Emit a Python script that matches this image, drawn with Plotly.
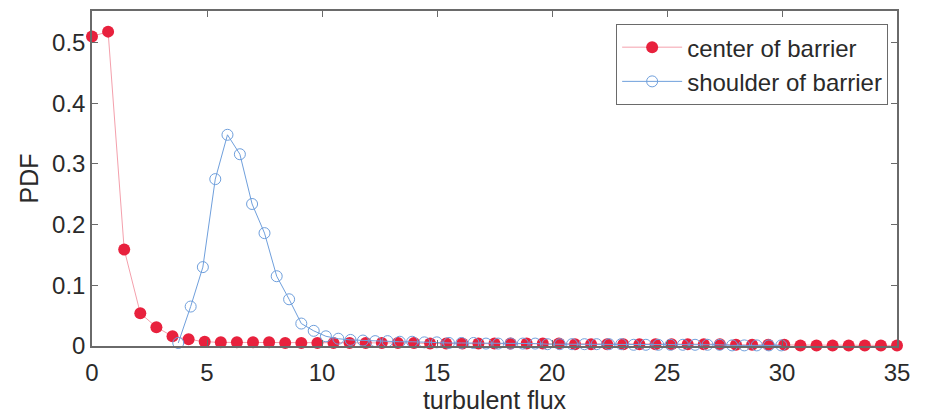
import plotly.graph_objects as go

# PDF of turbulent flux, binned estimates at two radial positions
center_x = [0.0, 0.7, 1.4, 2.1, 2.8, 3.5, 4.2, 4.9, 5.6, 6.3, 7.0, 7.7, 8.4, 9.1, 9.8,
            10.5, 11.2, 11.9, 12.6, 13.3, 14.0, 14.7, 15.4, 16.1, 16.8, 17.5, 18.2,
            18.9, 19.6, 20.3, 21.0, 21.7, 22.4, 23.1, 23.8, 24.5, 25.2, 25.9, 26.6,
            27.3, 28.0, 28.7, 29.4, 30.1, 30.8, 31.5, 32.2, 32.9, 33.6, 34.3, 35.0]
center_pdf = [0.510, 0.518, 0.159, 0.054, 0.031, 0.016, 0.011, 0.007, 0.006, 0.006,
              0.006, 0.006, 0.005, 0.005, 0.005, 0.005, 0.005, 0.005, 0.005, 0.005,
              0.005, 0.004, 0.004, 0.004, 0.004, 0.004, 0.004, 0.004, 0.004, 0.004,
              0.003, 0.003, 0.003, 0.003, 0.003, 0.003, 0.003, 0.003, 0.003, 0.003,
              0.002, 0.002, 0.002, 0.002, 0.001, 0.001, 0.001, 0.001, 0.001, 0.001,
              0.001]

shoulder_x = [3.75, 4.29, 4.82, 5.36, 5.89, 6.43, 6.96, 7.50, 8.03, 8.57, 9.10, 9.64,
              10.17, 10.71, 11.24, 11.78, 12.31, 12.85, 13.38, 13.92, 14.45, 14.99,
              15.52, 16.06, 16.59, 17.13, 17.66, 18.20, 18.73, 19.27, 19.80, 20.34,
              20.87, 21.41, 21.94, 22.48, 23.01, 23.55, 24.08, 24.62, 25.15, 25.69,
              26.22, 26.76, 27.29, 27.83, 28.36, 28.90, 29.43, 29.97]
shoulder_pdf = [0.005, 0.065, 0.130, 0.275, 0.348, 0.316, 0.234, 0.186, 0.115, 0.077,
                0.037, 0.025, 0.016, 0.012, 0.010, 0.009, 0.008, 0.008, 0.007, 0.007,
                0.006, 0.006, 0.005, 0.005, 0.005, 0.004, 0.004, 0.004, 0.004, 0.004,
                0.003, 0.003, 0.003, 0.003, 0.003, 0.003, 0.003, 0.002, 0.002, 0.002,
                0.002, 0.002, 0.002, 0.002, 0.002, 0.001, 0.001, 0.001, 0.001, 0.001]

x_ticks = [0, 5, 10, 15, 20, 25, 30, 35]
y_ticks = [0, 0.1, 0.2, 0.3, 0.4, 0.5]
y_tick_text = ["0", "0.1", "0.2", "0.3", "0.4", "0.5"]

FONT = "Liberation Sans, Arial, sans-serif"
TEXT_COLOR = "#2a2a2a"

fig = go.Figure()
fig.add_trace(go.Scatter(
    x=center_x, y=center_pdf, name="center of barrier", mode="lines+markers",
    line=dict(color="#f4a0ac", width=1),
    marker=dict(symbol="circle", size=12, color="#e8213d", line=dict(width=0)),
    cliponaxis=False,
))
fig.add_trace(go.Scatter(
    x=shoulder_x, y=shoulder_pdf, name="shoulder of barrier", mode="lines+markers",
    line=dict(color="#6f9fdc", width=1),
    marker=dict(symbol="circle-open", size=11, color="#6f9fdc", line=dict(width=1)),
    cliponaxis=False,
))

axis_common = dict(
    showline=True, linecolor="#6a6a6a", linewidth=1.5, mirror="ticks",
    ticks="inside", ticklen=6, tickcolor="#6a6a6a",
    showgrid=False, zeroline=False,
    tickfont=dict(family=FONT, size=24, color=TEXT_COLOR),
)

fig.update_layout(
    width=931, height=420,
    margin=dict(l=92, r=34, t=9, b=74),
    paper_bgcolor="white", plot_bgcolor="white",
    xaxis=dict(range=[0, 35], tickvals=x_ticks, ticklabelstandoff=4,
               title=dict(text="turbulent flux", standoff=4,
                          font=dict(family=FONT, size=25, color=TEXT_COLOR)),
               **axis_common),
    yaxis=dict(range=[0, 0.552], tickvals=y_ticks, ticktext=y_tick_text,
               ticklabelstandoff=0,
               title=dict(text="PDF", standoff=6,
                          font=dict(family=FONT, size=25, color=TEXT_COLOR)),
               **axis_common),
    legend=dict(x=0.989, y=0.961, xanchor="right", yanchor="top",
                bgcolor="white", bordercolor="#6a6a6a", borderwidth=1,
                font=dict(family=FONT, size=24, color=TEXT_COLOR),
                tracegroupgap=0, itemwidth=60),
    showlegend=True,
)

fig.write_html("out.html")
